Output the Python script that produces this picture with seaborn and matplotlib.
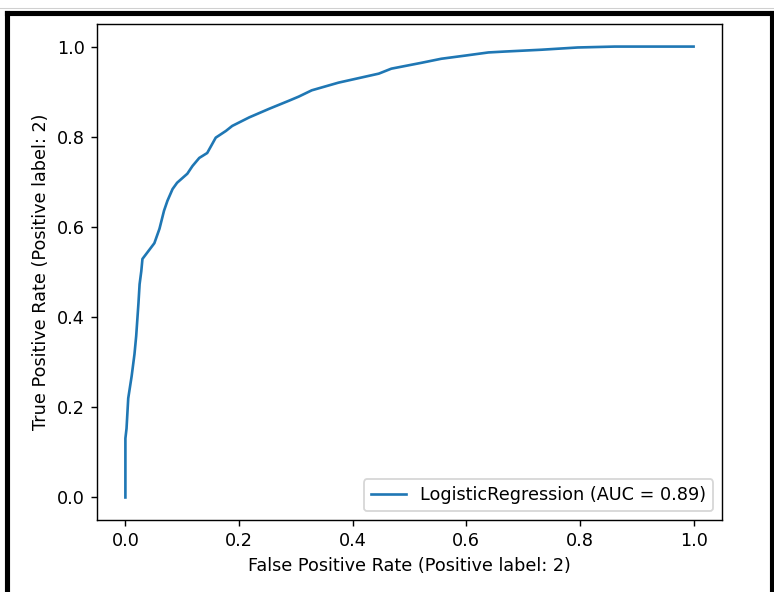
import pandas as pd
import seaborn as sns
import matplotlib.pyplot as plt
from matplotlib.lines import Line2D

# ROC points
fpr = [0.0, 0.0, 0.002, 0.005, 0.011, 0.016, 0.019, 0.023, 0.025, 0.028, 0.030,
       0.042, 0.051, 0.060, 0.068, 0.074, 0.083, 0.091, 0.109, 0.118, 0.130,
       0.144, 0.159, 0.177, 0.188, 0.218, 0.253, 0.288, 0.305, 0.328, 0.375,
       0.446, 0.468, 0.521, 0.556, 0.598, 0.639, 0.668, 0.732, 0.796, 0.861, 1.0]
tpr = [0.0, 0.131, 0.153, 0.220, 0.269, 0.318, 0.358, 0.431, 0.473, 0.502, 0.529,
       0.549, 0.564, 0.596, 0.636, 0.658, 0.684, 0.698, 0.718, 0.735, 0.753,
       0.764, 0.798, 0.813, 0.824, 0.843, 0.862, 0.880, 0.889, 0.903, 0.920,
       0.940, 0.951, 0.964, 0.973, 0.980, 0.987, 0.989, 0.993, 0.998, 1.0, 1.0]
label = "LogisticRegression (AUC = 0.89)"

df = pd.DataFrame({"fpr": fpr, "tpr": tpr})

DPI = 127
fig = plt.figure(figsize=(774 / DPI, 592 / DPI), dpi=DPI)
ax = fig.add_axes([0.1253, 0.1216, 0.8075, 0.8378])
sns.lineplot(data=df, x="fpr", y="tpr", sort=False, estimator=None,
             color="#1f77b4", linewidth=1.5, label=label, ax=ax)
ax.set_xlabel("False Positive Rate (Positive label: 2)")
ax.set_ylabel("True Positive Rate (Positive label: 2)")
ax.legend(loc="lower right")

# black frame around the screenshot
tf = fig.transFigure
top = 1 - 12.5 / 592
fig.add_artist(Line2D([7 / 774, 7 / 774], [-0.1, top], transform=tf, color="black", lw=2.9))
fig.add_artist(Line2D([7 / 774, 772 / 774], [top, top], transform=tf, color="black", lw=2.9))
fig.add_artist(Line2D([772 / 774, 772 / 774], [-0.1, top], transform=tf, color="black", lw=2.9))
fig.add_artist(Line2D([0, 1], [1 - 8 / 592, 1 - 8 / 592], transform=tf, color="#d0d0d0", lw=0.6))

fig.savefig("out.png", dpi=DPI)
